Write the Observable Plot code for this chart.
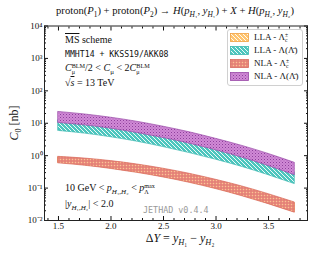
<!DOCTYPE html>
<html><head><meta charset="utf-8">
<script src="https://cdn.jsdelivr.net/npm/d3@7"></script>
<script src="https://cdn.jsdelivr.net/npm/@observablehq/plot@0.6"></script>
<style>
body{margin:0;background:#fff;}
#wrap{position:relative;width:332px;height:254px;overflow:hidden;font-family:"Liberation Serif",serif;color:#111;}
.t{position:absolute;white-space:nowrap;line-height:1;}
.m{font-family:"DejaVu Sans Mono",monospace;}
sub,sup{font-size:70%;line-height:0;}
.ss{display:inline-flex;flex-direction:column;vertical-align:middle;line-height:0.9;font-size:62%;text-align:left;}
#legend{position:absolute;left:227px;top:29px;width:74px;height:55px;border:1px solid #d0d0d0;border-radius:3px;background:#fff;font-size:9px;}
.le{position:absolute;left:2px;height:10px;width:70px;}
.le svg{position:absolute;left:0;top:0;}
.le span.lt{position:absolute;left:24px;top:-1px;white-space:nowrap;}
</style></head>
<body><div id="wrap"></div>
<script>
const dY = [1.5, 1.75, 2.0, 2.25, 2.5, 2.75, 3.0, 3.25, 3.5, 3.75];
const llaLcHi = [0.88, 0.78, 0.65, 0.51, 0.375, 0.26, 0.17, 0.106, 0.061, 0.034];
const llaLcLo = [0.60, 0.51, 0.405, 0.305, 0.22, 0.15, 0.096, 0.058, 0.033, 0.018];
const llaLamHi = [12.3, 10.2, 8.1, 6.0, 4.2, 2.8, 1.76, 1.05, 0.575, 0.30];
const llaLamLo = [5.8, 4.8, 3.7, 2.7, 1.84, 1.2, 0.75, 0.45, 0.25, 0.133];
const nlaLcHi = [0.92, 0.815, 0.68, 0.535, 0.395, 0.275, 0.18, 0.112, 0.065, 0.036];
const nlaLcLo = [0.58, 0.49, 0.39, 0.295, 0.213, 0.145, 0.093, 0.056, 0.032, 0.0174];
const nlaLamHi = [22.3, 18.7, 14.8, 11.1, 7.8, 5.25, 3.3, 2.0, 1.13, 0.60];
const nlaLamLo = [10.2, 8.6, 6.8, 5.0, 3.5, 2.35, 1.46, 0.87, 0.48, 0.25];

const yMajor = [0.01, 0.1, 1, 10, 100, 1000, 10000];
const yTickLabels = ["10\u207B\u00B2", "10\u207B\u00B9", "10\u2070", "10\u00B9", "10\u00B2", "10\u00B3", "10\u2074"];
const yMinor = [0.02,0.03,0.04,0.05,0.06,0.07,0.08,0.09,0.2,0.3,0.4,0.5,0.6,0.7,0.8,0.9,2,3,4,5,6,7,8,9,20,30,40,50,60,70,80,90,200,300,400,500,600,700,800,900,2000,3000,4000,5000,6000,7000,8000,9000];
const xMajor = [1.5, 2.0, 2.5, 3.0, 3.5];
const xTickLabels = ["1.5", "2.0", "2.5", "3.0", "3.5"];
const xMinor = [1.4,1.6,1.7,1.8,1.9,2.1,2.2,2.3,2.4,2.6,2.7,2.8,2.9,3.1,3.2,3.3,3.4,3.6,3.7,3.8];

const bands = [
  {hi: llaLcHi, lo: llaLcLo, fill: "url(#pOr)", stroke: "#f0a040"},
  {hi: llaLamHi, lo: llaLamLo, fill: "url(#pCy)", stroke: "#3cb8b0"},
  {hi: nlaLcHi, lo: nlaLcLo, fill: "url(#pRd)", stroke: "#d86a5e"},
  {hi: nlaLamHi, lo: nlaLamLo, fill: "url(#pMg)", stroke: "#9a4aa8"}
];
const table = b => dY.map((x, i) => ({x, hi: b.hi[i], lo: b.lo[i]}));

const plot = Plot.plot({
  width: 332, height: 254,
  marginLeft: 44, marginRight: 25, marginTop: 25.5, marginBottom: 34,
  style: {fontFamily: "Liberation Serif, serif", fontSize: "9px", color: "#111", background: "transparent"},
  x: {domain: [1.367, 3.871]},
  y: {type: "log", domain: [0.01, 10000]},
  marks: [
    ...bands.map(b => Plot.areaY(table(b), {x: "x", y1: "lo", y2: "hi", fill: b.fill, stroke: b.stroke, strokeWidth: 0.7, curve: "monotone-x"})),
    Plot.axisY({anchor: "left", ticks: yMinor, tickSize: -2, tickFormat: () => "", label: null}),
    Plot.axisY({anchor: "right", ticks: yMinor, tickSize: -2, tickFormat: () => "", label: null}),
    Plot.axisY({anchor: "left", ticks: yMajor, tickSize: -4, tickPadding: 6, tickFormat: d => yTickLabels[yMajor.indexOf(d)], label: null}),
    Plot.axisY({anchor: "right", ticks: yMajor, tickSize: -4, tickFormat: () => "", label: null}),
    Plot.axisX({anchor: "bottom", ticks: xMinor, tickSize: -2, tickFormat: () => "", label: null}),
    Plot.axisX({anchor: "top", ticks: xMinor, tickSize: -2, tickFormat: () => "", label: null}),
    Plot.axisX({anchor: "bottom", ticks: xMajor, tickSize: -4, tickPadding: 6, tickFormat: d => xTickLabels[xMajor.indexOf(d)], label: null}),
    Plot.axisX({anchor: "top", ticks: xMajor, tickSize: -4, tickFormat: () => "", label: null}),
    Plot.frame({stroke: "#222", strokeWidth: 1})
  ]
});

const defs = `
<pattern id="pCy" patternUnits="userSpaceOnUse" width="4" height="4">
 <rect width="4" height="4" fill="#4cc6be"/>
 <path d="M-1,-1L5,5M3,-1L5,1M-1,3L1,5" stroke="#ffffff" stroke-width="0.9"/>
</pattern>
<pattern id="pOr" patternUnits="userSpaceOnUse" width="4" height="4">
 <rect width="4" height="4" fill="#ffc46e"/>
 <path d="M-1,-1L5,5M3,-1L5,1M-1,3L1,5" stroke="#ffffff" stroke-width="0.9"/>
</pattern>
<pattern id="pMg" patternUnits="userSpaceOnUse" width="3" height="3">
 <rect width="3" height="3" fill="#d08ad6"/>
 <rect x="0" y="0" width="1" height="1" fill="#8e3f9c"/>
 <rect x="1.5" y="1.5" width="1" height="1" fill="#a95bb3"/>
</pattern>
<pattern id="pRd" patternUnits="userSpaceOnUse" width="3" height="3">
 <rect width="3" height="3" fill="#ea8c7f"/>
 <rect x="0" y="0" width="1" height="1" fill="#f9c890"/>
 <rect x="1.5" y="1.5" width="1" height="1" fill="#d46a60"/>
</pattern>`;
const d = document.createElementNS("http://www.w3.org/2000/svg", "defs");
d.innerHTML = defs;
plot.insertBefore(d, plot.firstChild);

const wrap = document.getElementById("wrap");
wrap.appendChild(plot);
plot.style.position = "absolute"; plot.style.left = "0"; plot.style.top = "0";

const stack = (a, b) => `<span class="ss"><span>${a}</span><span>${b}</span></span>`;
const legendItems = [
  {fill: "url(#pOr)", stroke: "#f0a040", html: 'LLA - Λ' + stack('±', 'c')},
  {fill: "url(#pCy)", stroke: "#3cb8b0", html: 'LLA - Λ(Λ̄)'},
  {fill: "url(#pRd)", stroke: "#d86a5e", html: 'NLA - Λ' + stack('±', 'c')},
  {fill: "url(#pMg)", stroke: "#9a4aa8", html: 'NLA - Λ(Λ̄)'}
];
const texts = [
  {x: 65, y: 35, cls: "", size: 10, html: '<span style="text-decoration:overline">MS</span> scheme'},
  {x: 65, y: 50, cls: "m", size: 8.2, html: 'MMHT14 + KKSS19/AKK08'},
  {x: 65, y: 63, cls: "", size: 10, html: '<i>C</i>' + stack('BLM', 'μ') + '/2 &lt; <i>C</i><sub>μ</sub> &lt; 2<i>C</i>' + stack('BLM', 'μ')},
  {x: 65, y: 78, cls: "", size: 10, html: '√<span style="text-decoration:overline"><i>s</i></span> = 13 TeV'},
  {x: 65, y: 183, cls: "", size: 10, html: '10 GeV &lt; <i>p</i><sub><i>H</i>₁,<i>H</i>₂</sub> &lt; <i>p</i>' + stack('max', 'Λ')},
  {x: 65, y: 199, cls: "", size: 10, html: '|<i>y</i><sub><i>H</i>₁,<i>H</i>₂</sub>| &lt; 2.0'},
  {x: 143, y: 206, cls: "m", size: 8.4, html: '<span style="color:#999">JETHAD v0.4.4</span>'}
];
let h = '';
h += '<div class="t" style="left:9px;width:332px;text-align:center;top:6px;font-size:10.6px">proton(<i>P</i><sub>1</sub>) + proton(<i>P</i><sub>2</sub>) → <i>H</i>(<i>p</i><sub><i>H</i>₁</sub>, <i>y</i><sub><i>H</i>₁</sub>) + <i>X</i> + <i>H</i>(<i>p</i><sub><i>H</i>₂</sub>, <i>y</i><sub><i>H</i>₂</sub>)</div>';
for (const t of texts) h += `<div class="t ${t.cls}" style="left:${t.x}px;top:${t.y}px;font-size:${t.size}px">${t.html}</div>`;
h += '<div class="t" style="left:14px;width:332px;text-align:center;top:232px;font-size:12px">Δ<i>Y</i> = <i>y</i><sub><i>H</i>₁</sub> − <i>y</i><sub><i>H</i>₂</sub></div>';
h += '<div class="t" style="left:14px;top:123px;font-size:12px;transform:translate(-50%,-50%) rotate(-90deg);">' + '<i>C</i><sub>0</sub> [nb]</div>';
h += '<div id="legend">';
legendItems.forEach((it, i) => {
  h += `<div class="le" style="top:${3 + i * 13}px"><svg width="20" height="9"><rect x="0.5" y="0.5" width="18" height="8" fill="${it.fill}" stroke="${it.stroke}" stroke-width="0.8"/></svg><span class="lt">${it.html}</span></div>`;
});
h += '</div>';
wrap.insertAdjacentHTML("beforeend", h);
</script></body></html>
